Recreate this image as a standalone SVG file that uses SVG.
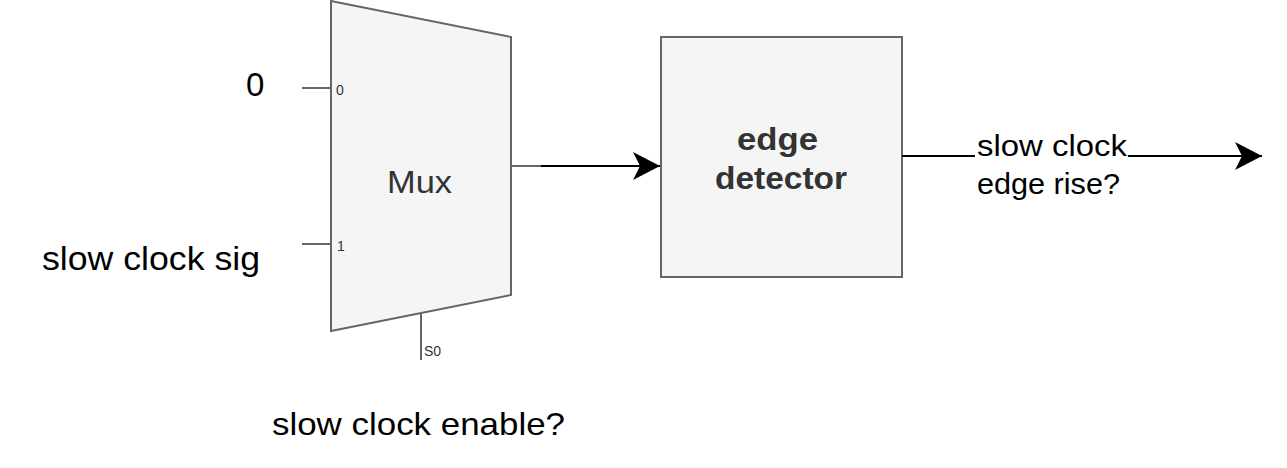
<svg xmlns="http://www.w3.org/2000/svg" width="1287" height="468" viewBox="0 0 1287 468">
<style>
.shape{fill:#f5f5f5;stroke:#666666;stroke-width:2}
.pin{stroke:#666666;stroke-width:2;fill:none}
.wire{stroke:#000000;stroke-width:2;fill:none}
.lbl{font-family:"Liberation Sans",Arial,Helvetica,sans-serif;fill:#000000}
.in{font-family:"Liberation Sans",Arial,Helvetica,sans-serif;fill:#333333}
</style>
<defs>
<marker id="arr" viewBox="0 0 30 30" refX="27" refY="15" markerWidth="30" markerHeight="30" markerUnits="userSpaceOnUse" orient="auto">
<path d="M0,1 L27,15 L0,29 L7,15 Z" fill="#000000"/>
</marker>
</defs>
<g id="mux">
<path class="shape" d="M331,1 L511,37 L511,295 L331,331 Z"/>
<path class="pin" d="M302,88 H331 M302,244 H331 M421,313 V360 M511,166 H541"/>
<text class="in" x="336" y="95" font-size="14">0</text>
<text class="in" x="337" y="251" font-size="14">1</text>
<text class="in" x="424" y="356" font-size="14">S0</text>
<text class="in" x="387" y="193" font-size="31" textLength="65" lengthAdjust="spacingAndGlyphs">Mux</text>
</g>
<g id="edge-detector">
<rect class="shape" x="661" y="37" width="241" height="240"/>
<text class="in" font-weight="bold" font-size="32" x="737" y="150" textLength="81" lengthAdjust="spacingAndGlyphs">edge</text>
<text class="in" font-weight="bold" font-size="32" x="715" y="189" textLength="132" lengthAdjust="spacingAndGlyphs">detector</text>
</g>
<g id="labels">
<text class="lbl" x="246" y="96" font-size="33">0</text>
<text class="lbl" x="42" y="270" font-size="33" textLength="218" lengthAdjust="spacingAndGlyphs">slow clock sig</text>
<text class="lbl" x="272" y="435" font-size="32" textLength="293" lengthAdjust="spacingAndGlyphs">slow clock enable?</text>
<text class="lbl" x="977" y="156" font-size="29" textLength="150" lengthAdjust="spacingAndGlyphs">slow clock</text>
<text class="lbl" x="977" y="194" font-size="29" textLength="143" lengthAdjust="spacingAndGlyphs">edge rise?</text>
</g>
<g id="connectors">
<path class="wire" d="M541,166 H660" marker-end="url(#arr)"/>
<path class="wire" d="M902,156 H975"/>
<path class="wire" d="M1128,156 H1262" marker-end="url(#arr)"/>
</g>
</svg>
